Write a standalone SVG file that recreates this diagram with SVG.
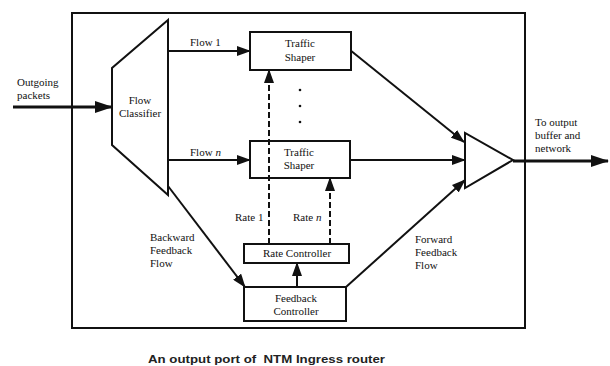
<svg xmlns="http://www.w3.org/2000/svg" width="610" height="366" viewBox="0 0 610 366">
<style>
.box{fill:#fff;stroke:#111;stroke-width:2}
.ln{fill:none;stroke:#111;stroke-width:2}
.thick{fill:none;stroke:#111;stroke-width:3}
.dash{fill:none;stroke:#111;stroke-width:2;stroke-dasharray:6 3}
text{font-family:"Liberation Serif","Times New Roman",serif;font-size:11px;fill:#111}
.c{text-anchor:middle}
.cap{font-family:"Liberation Sans",Arial,sans-serif;font-size:11px;font-weight:bold;fill:#222}
</style>
<defs>
<marker id="ah" markerUnits="userSpaceOnUse" markerWidth="14" markerHeight="10" refX="13" refY="5" orient="auto">
<path d="M0,0 L14,5 L0,10 Z" fill="#111"/>
</marker>
<marker id="ahb" markerUnits="userSpaceOnUse" markerWidth="18" markerHeight="12" refX="17" refY="6" orient="auto">
<path d="M0,0 L18,6 L0,12 Z" fill="#111"/>
</marker>
</defs>
<rect width="610" height="366" fill="#fff"/>
<rect id="outer" x="72" y="13" width="453" height="315" class="ln"/>
<g id="connectors">
<line x1="13" y1="107" x2="112" y2="107" class="thick" marker-end="url(#ahb)"/>
<line x1="168" y1="51" x2="250" y2="51" class="ln" marker-end="url(#ah)"/>
<line x1="168" y1="160" x2="250" y2="160" class="ln" marker-end="url(#ah)"/>
<line x1="350" y1="50" x2="464" y2="142" class="ln" marker-end="url(#ah)"/>
<line x1="350" y1="160" x2="465" y2="160" class="ln" marker-end="url(#ah)"/>
<line x1="346" y1="287" x2="465" y2="180" class="ln" marker-end="url(#ah)"/>
<line x1="168" y1="186" x2="245" y2="287" class="ln" marker-end="url(#ah)"/>
<line x1="269" y1="244" x2="269" y2="70" class="dash" marker-end="url(#ah)"/>
<line x1="330" y1="244" x2="330" y2="178" class="dash" marker-end="url(#ah)"/>
<line x1="297" y1="287" x2="297" y2="263" class="ln" marker-end="url(#ah)"/>
<line x1="513" y1="161" x2="608" y2="161" class="thick" marker-end="url(#ahb)"/>
</g>
<g id="classifier">
<path d="M168,20 L112,68 L112,145 L168,195 Z" class="box" fill-opacity="0"/>
<text x="140" y="104" class="c">Flow</text>
<text x="140" y="117" class="c">Classifier</text>
</g>
<g id="shaper1">
<rect x="250" y="32" width="101" height="38" class="box"/>
<text x="300" y="47" class="c">Traffic</text>
<text x="300" y="61" class="c">Shaper</text>
</g>
<g id="dots">
<circle cx="300" cy="90" r="1.3" fill="#111"/>
<circle cx="300" cy="106" r="1.3" fill="#111"/>
<circle cx="300" cy="122" r="1.3" fill="#111"/>
</g>
<g id="shapern">
<rect x="250" y="141" width="100" height="37" class="box" fill-opacity="0"/>
<text x="299" y="156" class="c">Traffic</text>
<text x="299" y="169" class="c">Shaper</text>
</g>
<g id="ratecontroller">
<rect x="244" y="244" width="105" height="19" class="box"/>
<text x="297" y="257" class="c">Rate Controller</text>
</g>
<g id="feedbackcontroller">
<rect x="244" y="287" width="102" height="34" class="box"/>
<text x="296" y="302" class="c">Feedback</text>
<text x="296" y="315" class="c">Controller</text>
</g>
<g id="combiner">
<path d="M465,133 L465,188 L513,160 Z" class="box"/>
</g>
<g id="labels">
<text x="17" y="86">Outgoing</text>
<text x="17" y="99">packets</text>
<text x="190" y="46">Flow 1</text>
<text x="190" y="156">Flow <tspan font-style="italic">n</tspan></text>
<text x="235" y="221">Rate 1</text>
<text x="293" y="221">Rate <tspan font-style="italic">n</tspan></text>
<text x="150" y="241">Backward</text>
<text x="150" y="254">Feedback</text>
<text x="150" y="267">Flow</text>
<text x="415" y="243">Forward</text>
<text x="415" y="256">Feedback</text>
<text x="415" y="269">Flow</text>
<text x="535" y="126">To output</text>
<text x="535" y="139">buffer and</text>
<text x="535" y="152">network</text>
<text x="148" y="363" class="cap" textLength="237" lengthAdjust="spacingAndGlyphs" xml:space="preserve">An output port of  NTM Ingress router</text>
</g>
</svg>
